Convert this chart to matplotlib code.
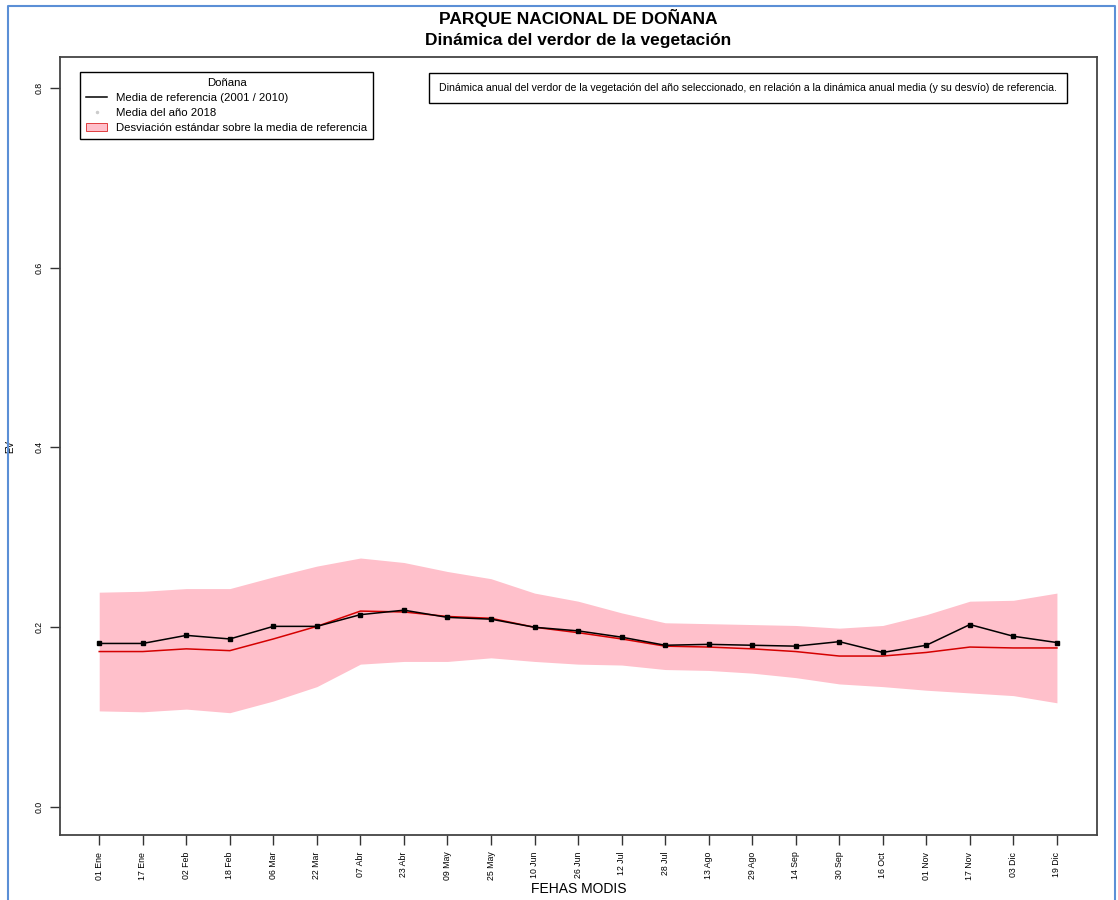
import matplotlib.pyplot as plt
import matplotlib as mpl
from matplotlib.lines import Line2D
from matplotlib.patches import Patch
import numpy as np

mpl.rcParams['font.family'] = ['Liberation Sans', 'DejaVu Sans']

# MODIS 16-day composite dates
fechas = ['01 Ene', '17 Ene', '02 Feb', '18 Feb', '06 Mar', '22 Mar', '07 Abr', '23 Abr',
          '09 May', '25 May', '10 Jun', '26 Jun', '12 Jul', '28 Jul', '13 Ago', '29 Ago',
          '14 Sep', '30 Sep', '16 Oct', '01 Nov', '17 Nov', '03 Dic', '19 Dic']

# EVI of the selected year
ev_2018 = [0.182, 0.182, 0.191, 0.187, 0.201, 0.201, 0.214, 0.219, 0.211, 0.209, 0.200, 0.196,
           0.189, 0.180, 0.181, 0.180, 0.179, 0.184, 0.172, 0.180, 0.203, 0.190, 0.183]

# Reference mean and standard deviation
ev_media = [0.173, 0.173, 0.176, 0.174, 0.187, 0.201, 0.218, 0.217, 0.212, 0.210, 0.200, 0.194,
            0.187, 0.179, 0.178, 0.176, 0.173, 0.168, 0.168, 0.172, 0.178, 0.177, 0.177]
ev_sd = [0.066, 0.067, 0.067, 0.069, 0.069, 0.067, 0.059, 0.055, 0.050, 0.044, 0.038, 0.035,
         0.029, 0.026, 0.026, 0.027, 0.029, 0.031, 0.034, 0.042, 0.051, 0.053, 0.061]

x = np.arange(len(fechas))
media = np.array(ev_media)
sd = np.array(ev_sd)

fig = plt.figure(figsize=(11.18, 9.0), dpi=100)
ax = fig.add_axes([0.0537, 0.0722, 0.9275, 0.8644])

ax.fill_between(x, media - sd, media + sd, color='pink', lw=0)
ax.plot(x, media, color='#d40000', lw=1.1)
ax.plot(x, ev_2018, color='black', lw=1.1, marker='s', ms=3.5)

ax.set_xlim(-0.9, 22.92)
ax.set_ylim(-0.031, 0.834)
ax.set_yticks([0.0, 0.2, 0.4, 0.6, 0.8])
ax.set_yticklabels(['0.0', '0.2', '0.4', '0.6', '0.8'], rotation=90, va='center')
ax.set_xticks(x)
ax.set_xticklabels(fechas, rotation=90)
ax.tick_params(length=7, width=1.0, labelsize=6.3, color='#333333', pad=5)
for s in ax.spines.values():
    s.set_linewidth(1.3)
    s.set_color('#444444')

ax.set_xlabel('FEHAS MODIS', fontsize=10, labelpad=1)
ax.set_ylabel('EV', fontsize=7, labelpad=14)

fig.text(0.517, 0.980, 'PARQUE NACIONAL DE DOÑANA', ha='center', va='center',
         fontsize=12.5, fontweight='bold')
fig.text(0.517, 0.955, 'Dinámica del verdor de la vegetación', ha='center', va='center',
         fontsize=12.5, fontweight='bold')

handles = [Line2D([], [], color='black', lw=1.1),
           Line2D([], [], color='#cccccc', lw=0, marker='.', ms=3),
           Patch(facecolor='pink', edgecolor='#d40000', lw=0.5)]
labels = ['Media de referencia (2001 / 2010)', 'Media del año 2018',
          'Desviación estándar sobre la media de referencia']
leg = ax.legend(handles, labels, title='Doñana', loc='upper left',
                bbox_to_anchor=(0.0193, 0.981), fontsize=8.2, title_fontsize=8.2,
                fancybox=False, edgecolor='black', framealpha=1,
                handlelength=1.9, handleheight=0.7, labelspacing=0.45,
                borderpad=0.5, borderaxespad=0)
leg.get_frame().set_linewidth(1.0)

ax.text(0.3655, 0.960,
        'Dinámica anual del verdor de la vegetación del año seleccionado, en relación a la '
        'dinámica anual media (y su desvío) de referencia.',
        transform=ax.transAxes, fontsize=7.6, va='center', ha='left',
        bbox=dict(boxstyle='square,pad=0.95', facecolor='white', edgecolor='black', lw=1.0))

# Outer frame
fig.add_artist(Line2D([0.007, 0.007, 0.997, 0.997], [0.0, 0.993, 0.993, 0.0],
                      transform=fig.transFigure, color='#5b8fd6', lw=1.5))

fig.savefig('out.png', dpi=100)
